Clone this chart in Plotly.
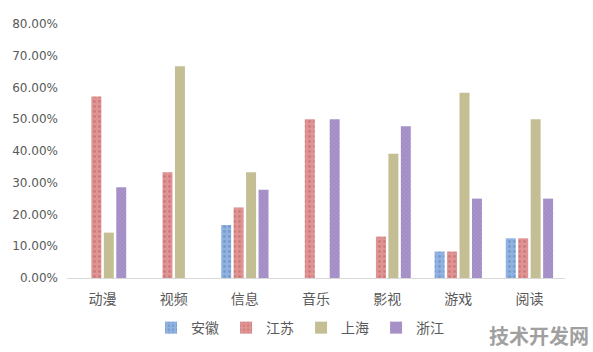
import plotly.graph_objects as go

categories = ["动漫", "视频", "信息", "音乐", "影视", "游戏", "阅读"]
series_names = ["安徽", "江苏", "上海", "浙江"]
anhui = [0, 0, 0.1667, 0, 0, 0.0833, 0.125]
jiangsu = [0.5714, 0.3333, 0.2222, 0.50, 0.1304, 0.0833, 0.125]
shanghai = [0.1429, 0.6667, 0.3333, 0, 0.3913, 0.5833, 0.50]
zhejiang = [0.2857, 0, 0.2778, 0.50, 0.4783, 0.25, 0.25]
y_ticks = [0, 0.1, 0.2, 0.3, 0.4, 0.5, 0.6, 0.7, 0.8]

values = [anhui, jiangsu, shanghai, zhejiang]
colors = ["#8FB2E0", "#E09393", "#C3BE94", "#A995CB"]
pcolors = ["#5B7FB5", "#B86466", "#B3AD82", "#7D68A6"]
shapes = [".", ".", "", "x"]
sizes = [5, 5, 6, 3]

fig = go.Figure()
for name, vals, c, pc, sh, sz in zip(series_names, values, colors, pcolors, shapes, sizes):
    fig.add_trace(go.Bar(
        name=name, x=categories, y=vals,
        marker=dict(color=c, line=dict(width=0),
                    pattern=dict(shape=sh, fgcolor=pc, size=sz, solidity=0.25, fillmode="overlay")),
    ))

fig.update_layout(
    width=593, height=352,
    margin=dict(l=67, r=28, t=24, b=74, autoexpand=False),
    paper_bgcolor="white", plot_bgcolor="white",
    barmode="group", bargap=0.3, bargroupgap=0.2,
    font=dict(family="Noto Sans CJK SC, sans-serif", size=12, color="#595959"),
    showlegend=True,
    legend=dict(orientation="h", x=0.47, xanchor="center", y=-0.197, yanchor="middle",
                font=dict(size=14, color="#595959"), itemwidth=30,
                entrywidth=30, entrywidthmode="pixels", traceorder="normal",
                tracegroupgap=0),
    xaxis=dict(showgrid=False, showline=True, linecolor="#D9D9D9", linewidth=1,
               ticks="", ticklabelstandoff=8, tickfont=dict(size=14, color="#595959")),
    yaxis=dict(range=[0, 0.8], tickvals=y_ticks, tickformat=".2%", showgrid=False,
               zeroline=False, showline=False, ticks="", ticklabelstandoff=8,
               tickfont=dict(family="Verdana, DejaVu Sans, sans-serif", size=12, color="#595959")),
)

fig.add_annotation(text="<b>技术开发网</b>", xref="paper", yref="paper", x=1.052, y=-0.16,
                   xanchor="right", yanchor="top", showarrow=False,
                   font=dict(size=20, color="#A0A0A0", family="Noto Sans CJK SC"))

fig.write_html("out.html")
